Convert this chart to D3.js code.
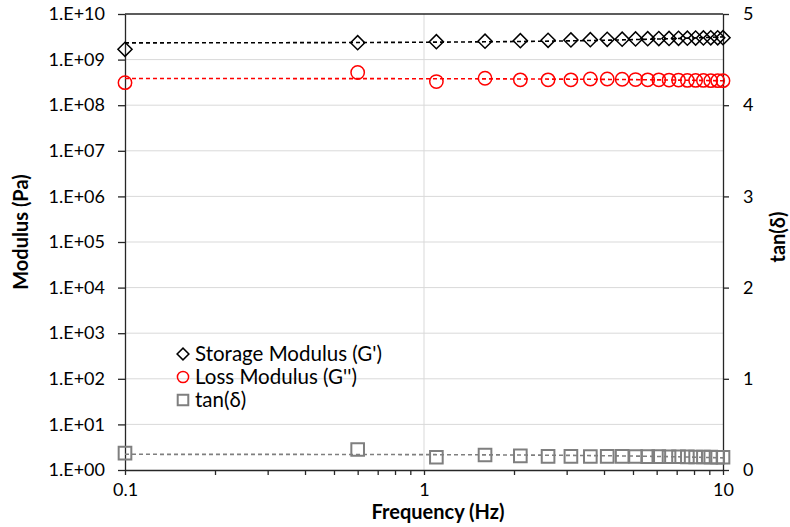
<!DOCTYPE html>
<html>
<head>
<meta charset="utf-8">
<script src="https://cdn.jsdelivr.net/npm/d3@7"></script>
<style>
  body { margin: 0; background: #fff; }
  text { font-family: Lato, "Open Sans", sans-serif; fill: #000; }
</style>
</head>
<body>
<script>

// data

const freq = [0.1, 0.6, 1.1, 1.6, 2.1, 2.6, 3.1, 3.6, 4.1, 4.6, 5.1,
              5.6, 6.1, 6.6, 7.1, 7.6, 8.1, 8.6, 9.1, 9.6, 10];

const storageModulus = [1.68e9, 2.35e9, 2.47e9, 2.54e9, 2.60e9, 2.65e9, 2.70e9,
                        2.74e9, 2.78e9, 2.81e9, 2.84e9, 2.87e9, 2.89e9, 2.91e9,
                        2.93e9, 2.95e9, 2.97e9, 2.98e9, 3.00e9, 3.01e9, 3.02e9];

const lossModulus = [3.12e8, 5.2e8, 3.3e8, 3.9e8, 3.6e8, 3.6e8, 3.6e8,
                     3.75e8, 3.75e8, 3.7e8, 3.65e8, 3.6e8, 3.6e8, 3.55e8,
                     3.55e8, 3.5e8, 3.5e8, 3.5e8, 3.45e8, 3.45e8, 3.45e8];

const tanDelta = [0.185, 0.225, 0.14, 0.165, 0.155, 0.15, 0.15, 0.148, 0.15, 0.15, 0.148,
                  0.147, 0.146, 0.145, 0.145, 0.144, 0.143, 0.142, 0.141, 0.14, 0.14];

const modulusTicks = [1e0, 1e1, 1e2, 1e3, 1e4, 1e5, 1e6, 1e7, 1e8, 1e9, 1e10];
const tanTicks = [0, 1, 2, 3, 4, 5];
const freqMajor = [0.1, 1, 10];
const freqMinor = [0.2, 0.3, 0.4, 0.5, 0.6, 0.7, 0.8, 0.9, 2, 3, 4, 5, 6, 7, 8, 9];

const legendNames = ["Storage Modulus (G')", "Loss Modulus (G'')", "tan(\u03b4)"];


// sizes

const w = 790;
const h = 527;
const margin = {top: 14, right: 67, bottom: 57, left: 125};

const xScale = d3.scaleLog()
    .domain([0.1, 10])
    .range([margin.left, w - margin.right]);

const yScale = d3.scaleLog()
    .domain([1, 1e10])
    .range([h - margin.bottom, margin.top]);

const y2Scale = d3.scaleLinear()
    .domain([0, 5])
    .range([h - margin.bottom, margin.top]);


// add svg

const svg = d3.select("body")
  .append("svg")
    .attr("width", w)
    .attr("height", h);

svg.append("rect")
    .attr("width", w)
    .attr("height", h)
    .attr("fill", "white");


// gridlines

svg.append("g")
  .selectAll("line")
  .data(modulusTicks.slice(1, -1))
  .enter().append("line")
    .attr("x1", margin.left)
    .attr("x2", w - margin.right)
    .attr("y1", d => yScale(d))
    .attr("y2", d => yScale(d))
    .attr("stroke", "#d9d9d9");

svg.append("line")
    .attr("x1", xScale(1))
    .attr("x2", xScale(1))
    .attr("y1", margin.top)
    .attr("y2", h - margin.bottom)
    .attr("stroke", "#d9d9d9");

svg.append("line")
    .attr("x1", margin.left)
    .attr("x2", w - margin.right)
    .attr("y1", yScale(1e10))
    .attr("y2", yScale(1e10))
    .attr("stroke", "#262626")
    .attr("stroke-width", 1.3);


// axes

const fmtExp = d => "1.E+" + String(Math.round(Math.log10(d))).padStart(2, "0");

const yAxis = d3.axisLeft(yScale)
    .tickValues(modulusTicks)
    .tickFormat(fmtExp)
    .tickSizeInner(7)
    .tickSizeOuter(0)
    .tickPadding(13);

const y2Axis = d3.axisRight(y2Scale)
    .tickValues(tanTicks)
    .tickFormat(d3.format("d"))
    .tickSizeInner(6)
    .tickSizeOuter(0)
    .tickPadding(14);

const xAxis = d3.axisBottom(xScale)
    .tickValues(freqMajor.concat(freqMinor))
    .tickFormat(d => freqMajor.includes(d) ? String(d) : "")
    .tickSizeInner(5)
    .tickSizeOuter(0)
    .tickPadding(8);

const axisStyle = g => {
  g.select(".domain").attr("stroke", "#262626").attr("stroke-width", 1.3);
  g.selectAll(".tick line").attr("stroke", "#262626").attr("stroke-width", 1.3);
  g.selectAll(".tick text").style("font-size", "18px").attr("fill", "#000");
};

svg.append("g")
    .attr("class", "yAxis")
    .attr("transform", `translate(${margin.left}, 0)`)
    .call(yAxis)
    .call(axisStyle);

svg.append("g")
    .attr("class", "y2Axis")
    .attr("transform", `translate(${w - margin.right}, 0)`)
    .call(y2Axis)
    .call(axisStyle);

svg.append("g")
    .attr("class", "xAxis")
    .attr("transform", `translate(0, ${h - margin.bottom})`)
    .call(xAxis)
    .call(axisStyle);

svg.selectAll("g.tick text").attr("font-family", "Lato");


// axis titles

svg.append("text")
    .attr("x", 438)
    .attr("y", 519)
    .attr("text-anchor", "middle")
    .style("font-size", "20px")
    .style("font-weight", "bold")
    .text("Frequency (Hz)");

svg.append("text")
    .attr("transform", `translate(28, ${(margin.top + h - margin.bottom) / 2 - 10}) rotate(-90)`)
    .attr("text-anchor", "middle")
    .style("font-size", "20px")
    .style("font-weight", "bold")
    .text("Modulus (Pa)");

svg.append("text")
    .attr("transform", `translate(785, ${(margin.top + h - margin.bottom) / 2 - 5}) rotate(-90)`)
    .attr("text-anchor", "middle")
    .style("font-size", "20px")
    .style("font-weight", "bold")
    .text("tan(\u03b4)");


// trendlines (linear least squares, like the spreadsheet)

const linearFit = ys => {
  const mx = d3.mean(freq), my = d3.mean(ys);
  const b = d3.sum(freq, (f, i) => (f - mx) * (ys[i] - my)) / d3.sum(freq, f => (f - mx) ** 2);
  return f => my + b * (f - mx);
};

const trendX = d3.range(0, 101).map(i => 0.1 * Math.pow(100, i / 100));

const series = [
  {values: storageModulus, scale: yScale, color: "#000000", symbol: d3.symbolSquare, size: 100, rotate: 45, width: 1.5},
  {values: lossModulus, scale: yScale, color: "#ff0000", symbol: d3.symbolCircle, size: 140, rotate: 0, width: 1.5},
  {values: tanDelta, scale: y2Scale, color: "#7f7f7f", symbol: d3.symbolSquare, size: 160, rotate: 0, width: 2}
];

series.forEach(s => {
  const fit = linearFit(s.values);
  const line = d3.line()
      .x(f => xScale(f))
      .y(f => s.scale(fit(f)));

  svg.append("path")
      .datum(trendX)
      .attr("d", line)
      .attr("fill", "none")
      .attr("stroke", s.color)
      .attr("stroke-width", 1.6)
      .attr("stroke-dasharray", "4,3");

  svg.append("g")
    .selectAll("path")
    .data(freq)
    .enter().append("path")
      .attr("d", d3.symbol(s.symbol, s.size))
      .attr("transform", (f, i) => `translate(${xScale(f)}, ${s.scale(s.values[i])}) rotate(${s.rotate})`)
      .attr("fill", "none")
      .attr("stroke", s.color)
      .attr("stroke-width", s.width);
});


// legend

const legend = svg.append("g")
    .attr("transform", "translate(183, 354)");

legendNames.forEach((name, i) => {
  const s = series[i];
  legend.append("path")
      .attr("d", d3.symbol(s.symbol, s.size * 0.7))
      .attr("transform", `translate(0, ${i * 23}) rotate(${s.rotate})`)
      .attr("fill", "none")
      .attr("stroke", s.color)
      .attr("stroke-width", s.width);

  legend.append("text")
      .attr("x", 12)
      .attr("y", i * 23)
      .attr("dy", "0.35em")
      .style("font-size", "20.5px")
      .text(name);
});

</script>
</body>
</html>
